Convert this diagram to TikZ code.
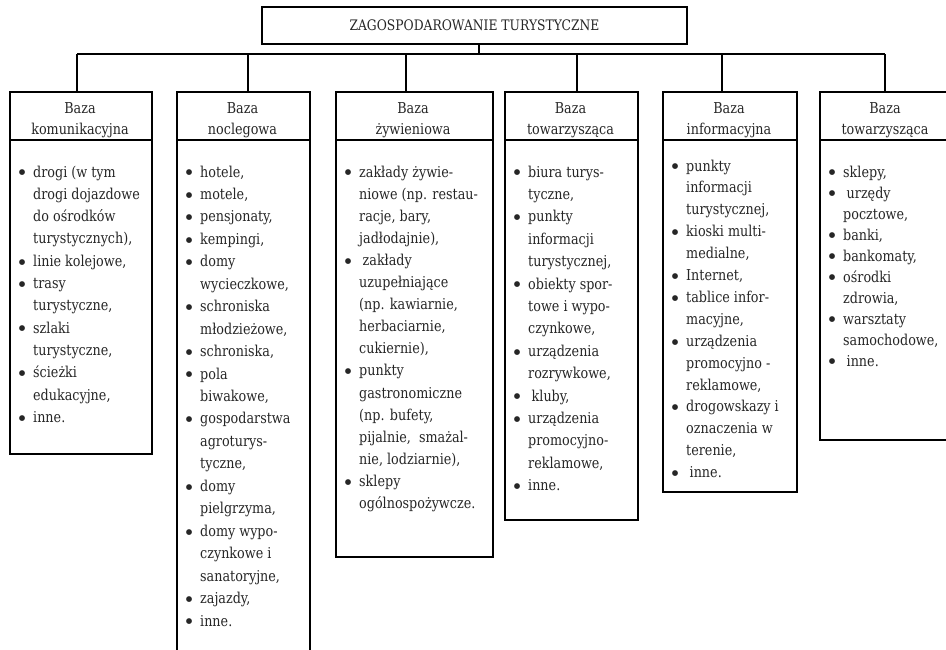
\documentclass[tikz,border=0pt]{standalone}
\usepackage{fontspec}
\setmainfont[FakeStretch=0.85]{DejaVu Serif}
\newfontfamily\bulfont{DejaVu Sans}
\newcommand\lbul{\makebox[14.6pt][l]{\makebox[7.3pt]{\raisebox{2.2pt}{\bulfont\fontsize{7.5}{7.5}\selectfont ●}}}}
\newcommand\lind{\hspace*{14.6pt}}
\newcommand\lxsp{\hspace*{3.5pt}}
\newcommand\lfnt[1]{\fontsize{15}{#1}\selectfont}
\definecolor{ink}{HTML}{262626}
\begin{document}
\begin{tikzpicture}[x=1pt,y=-1pt,
  box/.style={draw=black, line width=2pt, inner sep=0pt, anchor=north west},
  conn/.style={draw=black, line width=1.6pt},
  htext/.style={inner sep=0pt, anchor=base, text=ink, font=\lfnt{21}},
  ltext/.style={inner sep=0pt, anchor=base west, text=ink}]
\fill[white] (0,0) rectangle (946,649);
\clip (0,0) rectangle (946,649);

% top box
\node[box, minimum width=425pt, minimum height=37pt, text=ink,
      font=\fontsize{14.5}{17}\selectfont] (top) at (261,6) {ZAGOSPODAROWANIE TURYSTYCZNE};

% header boxes
\node[box, minimum width=142pt, minimum height=48pt] (h1) at (9,91) {};
\node[box, minimum width=133pt, minimum height=48pt] (h2) at (176,91) {};
\node[box, minimum width=157pt, minimum height=48pt] (h3) at (335,91) {};
\node[box, minimum width=133pt, minimum height=48pt] (h4) at (504,91) {};
\node[box, minimum width=134pt, minimum height=48pt] (h5) at (662,91) {};
\node[box, minimum width=132pt, minimum height=48pt] (h6) at (819,91) {};

% body boxes
\node[box, minimum width=142pt, minimum height=314pt] (b1) at (9,139) {};
\node[box, minimum width=133pt, minimum height=530pt] (b2) at (176,139) {};
\node[box, minimum width=157pt, minimum height=417pt] (b3) at (335,139) {};
\node[box, minimum width=133pt, minimum height=380pt] (b4) at (504,139) {};
\node[box, minimum width=134pt, minimum height=352pt] (b5) at (662,139) {};
\node[box, minimum width=132pt, minimum height=300pt] (b6) at (819,139) {};

% header texts
\node[htext] (t1) at (80,113) {\begin{tabular}[t]{@{}c@{}}Baza\\komunikacyjna\end{tabular}};
\node[htext] (t2) at (242.5,113) {\begin{tabular}[t]{@{}c@{}}Baza\\noclegowa\end{tabular}};
\node[htext] (t3) at (413,113) {\begin{tabular}[t]{@{}c@{}}Baza\\żywieniowa\end{tabular}};
\node[htext] (t4) at (570.5,113) {\begin{tabular}[t]{@{}c@{}}Baza\\towarzysząca\end{tabular}};
\node[htext] (t5) at (729,113) {\begin{tabular}[t]{@{}c@{}}Baza\\informacyjna\end{tabular}};
\node[htext] (t6) at (885,113) {\begin{tabular}[t]{@{}c@{}}Baza\\towarzysząca\end{tabular}};

% lists
\node[ltext, font=\lfnt{22.3}] (l1) at (18.4,177) {\begin{tabular}[t]{@{}l@{}}
\lbul drogi (w tym\\
\lind drogi dojazdowe\\
\lind do ośrodków\\
\lind turystycznych),\\
\lbul linie kolejowe,\\
\lbul trasy\\
\lind turystyczne,\\
\lbul szlaki\\
\lind turystyczne,\\
\lbul ścieżki\\
\lind edukacyjne,\\
\lbul inne.
\end{tabular}};

\node[ltext, font=\lfnt{22.45}] (l2) at (185.4,177) {\begin{tabular}[t]{@{}l@{}}
\lbul hotele,\\
\lbul motele,\\
\lbul pensjonaty,\\
\lbul kempingi,\\
\lbul domy\\
\lind wycieczkowe,\\
\lbul schroniska\\
\lind młodzieżowe,\\
\lbul schroniska,\\
\lbul pola\\
\lind biwakowe,\\
\lbul gospodarstwa\\
\lind agroturys-\\
\lind tyczne,\\
\lbul domy\\
\lind pielgrzyma,\\
\lbul domy wypo-\\
\lind czynkowe i\\
\lind sanatoryjne,\\
\lbul zajazdy,\\
\lbul inne.
\end{tabular}};

\node[ltext, font=\lfnt{22.1}] (l3) at (344.4,177) {\begin{tabular}[t]{@{}l@{}}
\lbul zakłady żywie-\\
\lind niowe (np. restau-\\
\lind racje, bary,\\
\lind jadłodajnie),\\
\lbul \lxsp zakłady\\
\lind uzupełniające\\
\lind (np. kawiarnie,\\
\lind herbaciarnie,\\
\lind cukiernie),\\
\lbul punkty\\
\lind gastronomiczne\\
\lind (np. bufety,\\
\lind pijalnie,\ \ smażal-\\
\lind nie, lodziarnie),\\
\lbul sklepy\\
\lind ogólnospożywcze.
\end{tabular}};

\node[ltext, font=\lfnt{22.4}] (l4) at (513.4,177) {\begin{tabular}[t]{@{}l@{}}
\lbul biura turys-\\
\lind tyczne,\\
\lbul punkty\\
\lind informacji\\
\lind turystycznej,\\
\lbul obiekty spor-\\
\lind towe i wypo-\\
\lind czynkowe,\\
\lbul urządzenia\\
\lind rozrywkowe,\\
\lbul \lxsp kluby,\\
\lbul urządzenia\\
\lind promocyjno-\\
\lind reklamowe,\\
\lbul inne.
\end{tabular}};

\node[ltext, font=\lfnt{21.9}] (l5) at (671.4,171) {\begin{tabular}[t]{@{}l@{}}
\lbul punkty\\
\lind informacji\\
\lind turystycznej,\\
\lbul kioski multi-\\
\lind medialne,\\
\lbul Internet,\\
\lbul tablice infor-\\
\lind macyjne,\\
\lbul urządzenia\\
\lind promocyjno -\\
\lind reklamowe,\\
\lbul drogowskazy i\\
\lind oznaczenia w\\
\lind terenie,\\
\lbul \lxsp inne.
\end{tabular}};

\node[ltext, font=\lfnt{21}] (l6) at (828.4,177) {\begin{tabular}[t]{@{}l@{}}
\lbul sklepy,\\
\lbul \lxsp urzędy\\
\lind pocztowe,\\
\lbul banki,\\
\lbul bankomaty,\\
\lbul ośrodki\\
\lind zdrowia,\\
\lbul warsztaty\\
\lind samochodowe,\\
\lbul \lxsp inne.
\end{tabular}};

% connectors
\coordinate (j0) at (479,54);
\coordinate (j1) at (77,54);
\coordinate (j2) at (248,54);
\coordinate (j3) at (406,54);
\coordinate (j4) at (577,54);
\coordinate (j5) at (722,54);
\coordinate (j6) at (885,54);
\draw[conn] (top.south -| j0) -- (j0);
\draw[conn] (j1) -- (j6);
\draw[conn] (j1) -- (j1 |- h1.north);
\draw[conn] (j2) -- (j2 |- h2.north);
\draw[conn] (j3) -- (j3 |- h3.north);
\draw[conn] (j4) -- (j4 |- h4.north);
\draw[conn] (j5) -- (j5 |- h5.north);
\draw[conn] (j6) -- (j6 |- h6.north);
\end{tikzpicture}
\end{document}
